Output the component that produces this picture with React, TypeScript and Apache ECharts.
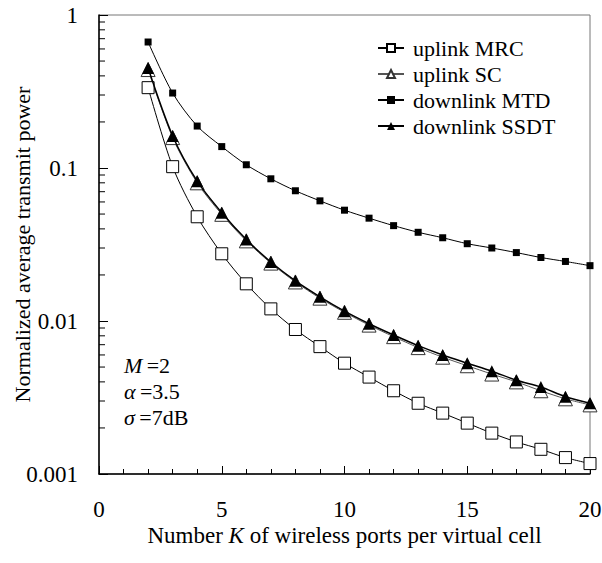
import React, { useEffect, useRef } from "react";
import * as echarts from "echarts";

const K = [2, 3, 4, 5, 6, 7, 8, 9, 10, 11, 12, 13, 14, 15, 16, 17, 18, 19, 20];
const uplinkMRC = [0.335, 0.102, 0.048, 0.0275, 0.0175, 0.012, 0.0088, 0.0068, 0.0053, 0.0043, 0.0035, 0.0029, 0.0025, 0.00215, 0.00185, 0.00162, 0.00145, 0.00128, 0.00117];
const uplinkSC = [0.44, 0.158, 0.08, 0.0498, 0.0334, 0.0239, 0.018, 0.0141, 0.0114, 0.0094, 0.0079, 0.0067, 0.0058, 0.0051, 0.0045, 0.004, 0.0035, 0.0031, 0.00283];
const downlinkMTD = [0.666, 0.309, 0.188, 0.138, 0.105, 0.085, 0.071, 0.061, 0.053, 0.047, 0.042, 0.038, 0.035, 0.032, 0.03, 0.028, 0.026, 0.0245, 0.023];
const downlinkSSDT = [0.45, 0.162, 0.082, 0.051, 0.0341, 0.0243, 0.0183, 0.0144, 0.0116, 0.0096, 0.0081, 0.0069, 0.006, 0.0053, 0.0047, 0.0041, 0.0037, 0.0032, 0.0029];
const yTickLabels = ["1", "0.1", "0.01", "0.001"];
const yMinorTicks = [0.002, 0.003, 0.004, 0.005, 0.006, 0.007, 0.008, 0.009, 0.02, 0.03, 0.04, 0.05, 0.06, 0.07, 0.08, 0.09, 0.2, 0.3, 0.4, 0.5, 0.6, 0.7, 0.8, 0.9];
const seriesNames = ["uplink MRC", "uplink SC", "downlink MTD", "downlink SSDT"];
const annotations = ["{i|M}\u2009=2", "{i|α}\u2009=3.5", "{i|σ}\u2009=7dB"];

const FONT = "'Liberation Serif', 'Times New Roman', serif";

export default function App() {
  const ref = useRef<HTMLDivElement>(null);
  useEffect(() => {
    document.body.style.margin = "0";
    const chart = echarts.init(ref.current!, null, { renderer: "svg" });
    const pair = (ys: number[]) => K.map((k, i) => [k, ys[i]]);
    const option: any = {
      animation: false,
      backgroundColor: "#fff",
      textStyle: { fontFamily: FONT, color: "#000" },
      grid: {
        left: 99,
        right: 12,
        top: 15,
        bottom: 89,
        containLabel: false,
        outerBoundsMode: "none",
        show: true,
        borderColor: "#777",
        borderWidth: 1,
        backgroundColor: "transparent",
      },
      legend: {
        data: seriesNames,
        orient: "vertical",
        left: 372,
        top: 32,
        itemWidth: 26,
        itemHeight: 10,
        itemGap: 4,
        textStyle: { fontFamily: FONT, fontSize: 22, color: "#000", padding: [0, 0, 0, 4] },
      },
      xAxis: {
        type: "value",
        min: 0,
        max: 20,
        interval: 5,
        name: "Number {i|K} of wireless ports per virtual cell",
        nameLocation: "middle",
        nameGap: 50,
        nameMoveOverlap: false,
        nameTextStyle: {
          fontFamily: FONT,
          fontSize: 23,
          color: "#000",
          rich: { i: { fontStyle: "italic", fontFamily: FONT, fontSize: 23, color: "#000" } },
        },
        axisLine: { show: true, onZero: false, lineStyle: { color: "#000", width: 1.5 } },
        axisTick: { show: true, inside: true, length: 8, lineStyle: { color: "#000", width: 1 } },
        minorTick: { show: true, splitNumber: 5, length: 5, lineStyle: { color: "#000", width: 1 } },
        axisLabel: { fontFamily: FONT, fontSize: 23, color: "#000", margin: 24 },
        splitLine: { show: false },
      },
      yAxis: {
        type: "log",
        logBase: 10,
        min: 0.001,
        max: 1,
        name: "Normalized average transmit power",
        nameLocation: "middle",
        nameGap: 66,
        nameMoveOverlap: false,
        nameTextStyle: { fontFamily: FONT, fontSize: 22, color: "#000" },
        axisLine: { show: true, lineStyle: { color: "#000", width: 1.5 } },
        axisTick: { show: true, inside: true, length: 9, lineStyle: { color: "#000", width: 1 } },
        axisLabel: {
          fontFamily: FONT,
          fontSize: 23,
          color: "#000",
          margin: 21,
          formatter: (v: number) => yTickLabels[Math.round(-Math.log10(v))] ?? "",
        },
        splitLine: { show: false },
      },
      series: [
        {
          type: "custom",
          name: "minorTicks",
          silent: true,
          data: yMinorTicks.map((v) => [0, v]),
          renderItem: (params: any, api: any) => {
            const p = api.coord([0, api.value(1)]);
            return {
              type: "line",
              shape: { x1: p[0], y1: p[1], x2: p[0] + 6, y2: p[1] },
              style: { stroke: "#000", lineWidth: 1 },
            };
          },
          z: 5,
        },
        {
          name: seriesNames[0],
          type: "line",
          data: pair(uplinkMRC),
          smooth: 0.3,
          symbol: "rect",
          symbolSize: 12,
          lineStyle: { color: "#000", width: 1 },
          itemStyle: { color: "#fff", borderColor: "#000", borderWidth: 1 },
          z: 3,
        },
        {
          name: seriesNames[1],
          type: "line",
          data: pair(uplinkSC),
          smooth: 0.3,
          symbol: "triangle",
          symbolSize: 14,
          lineStyle: { color: "#555", width: 1 },
          itemStyle: { color: "#fff", borderColor: "#333", borderWidth: 1 },
          z: 3,
        },
        {
          name: seriesNames[2],
          type: "line",
          data: pair(downlinkMTD),
          smooth: 0.3,
          symbol: "rect",
          symbolSize: 7,
          lineStyle: { color: "#000", width: 1 },
          itemStyle: { color: "#000", borderColor: "#000", borderWidth: 0 },
          z: 4,
        },
        {
          name: seriesNames[3],
          type: "line",
          data: pair(downlinkSSDT),
          smooth: 0.3,
          symbol: "triangle",
          symbolSize: 12,
          lineStyle: { color: "#000", width: 1.5 },
          itemStyle: { color: "#000", borderColor: "#000", borderWidth: 0 },
          z: 4,
        },
      ],
      graphic: annotations.map((t, i) => ({
        type: "text",
        left: 124,
        top: 354 + i * 26,
        style: {
          text: t,
          font: `22px ${FONT}`,
          fill: "#000",
          rich: { i: { fontStyle: "italic", fontFamily: FONT, fontSize: 22, fill: "#000" } },
        },
      })),
    };
    chart.setOption(option);
    return () => chart.dispose();
  }, []);
  return <div ref={ref} style={{ width: 602, height: 563 }} />;
}
